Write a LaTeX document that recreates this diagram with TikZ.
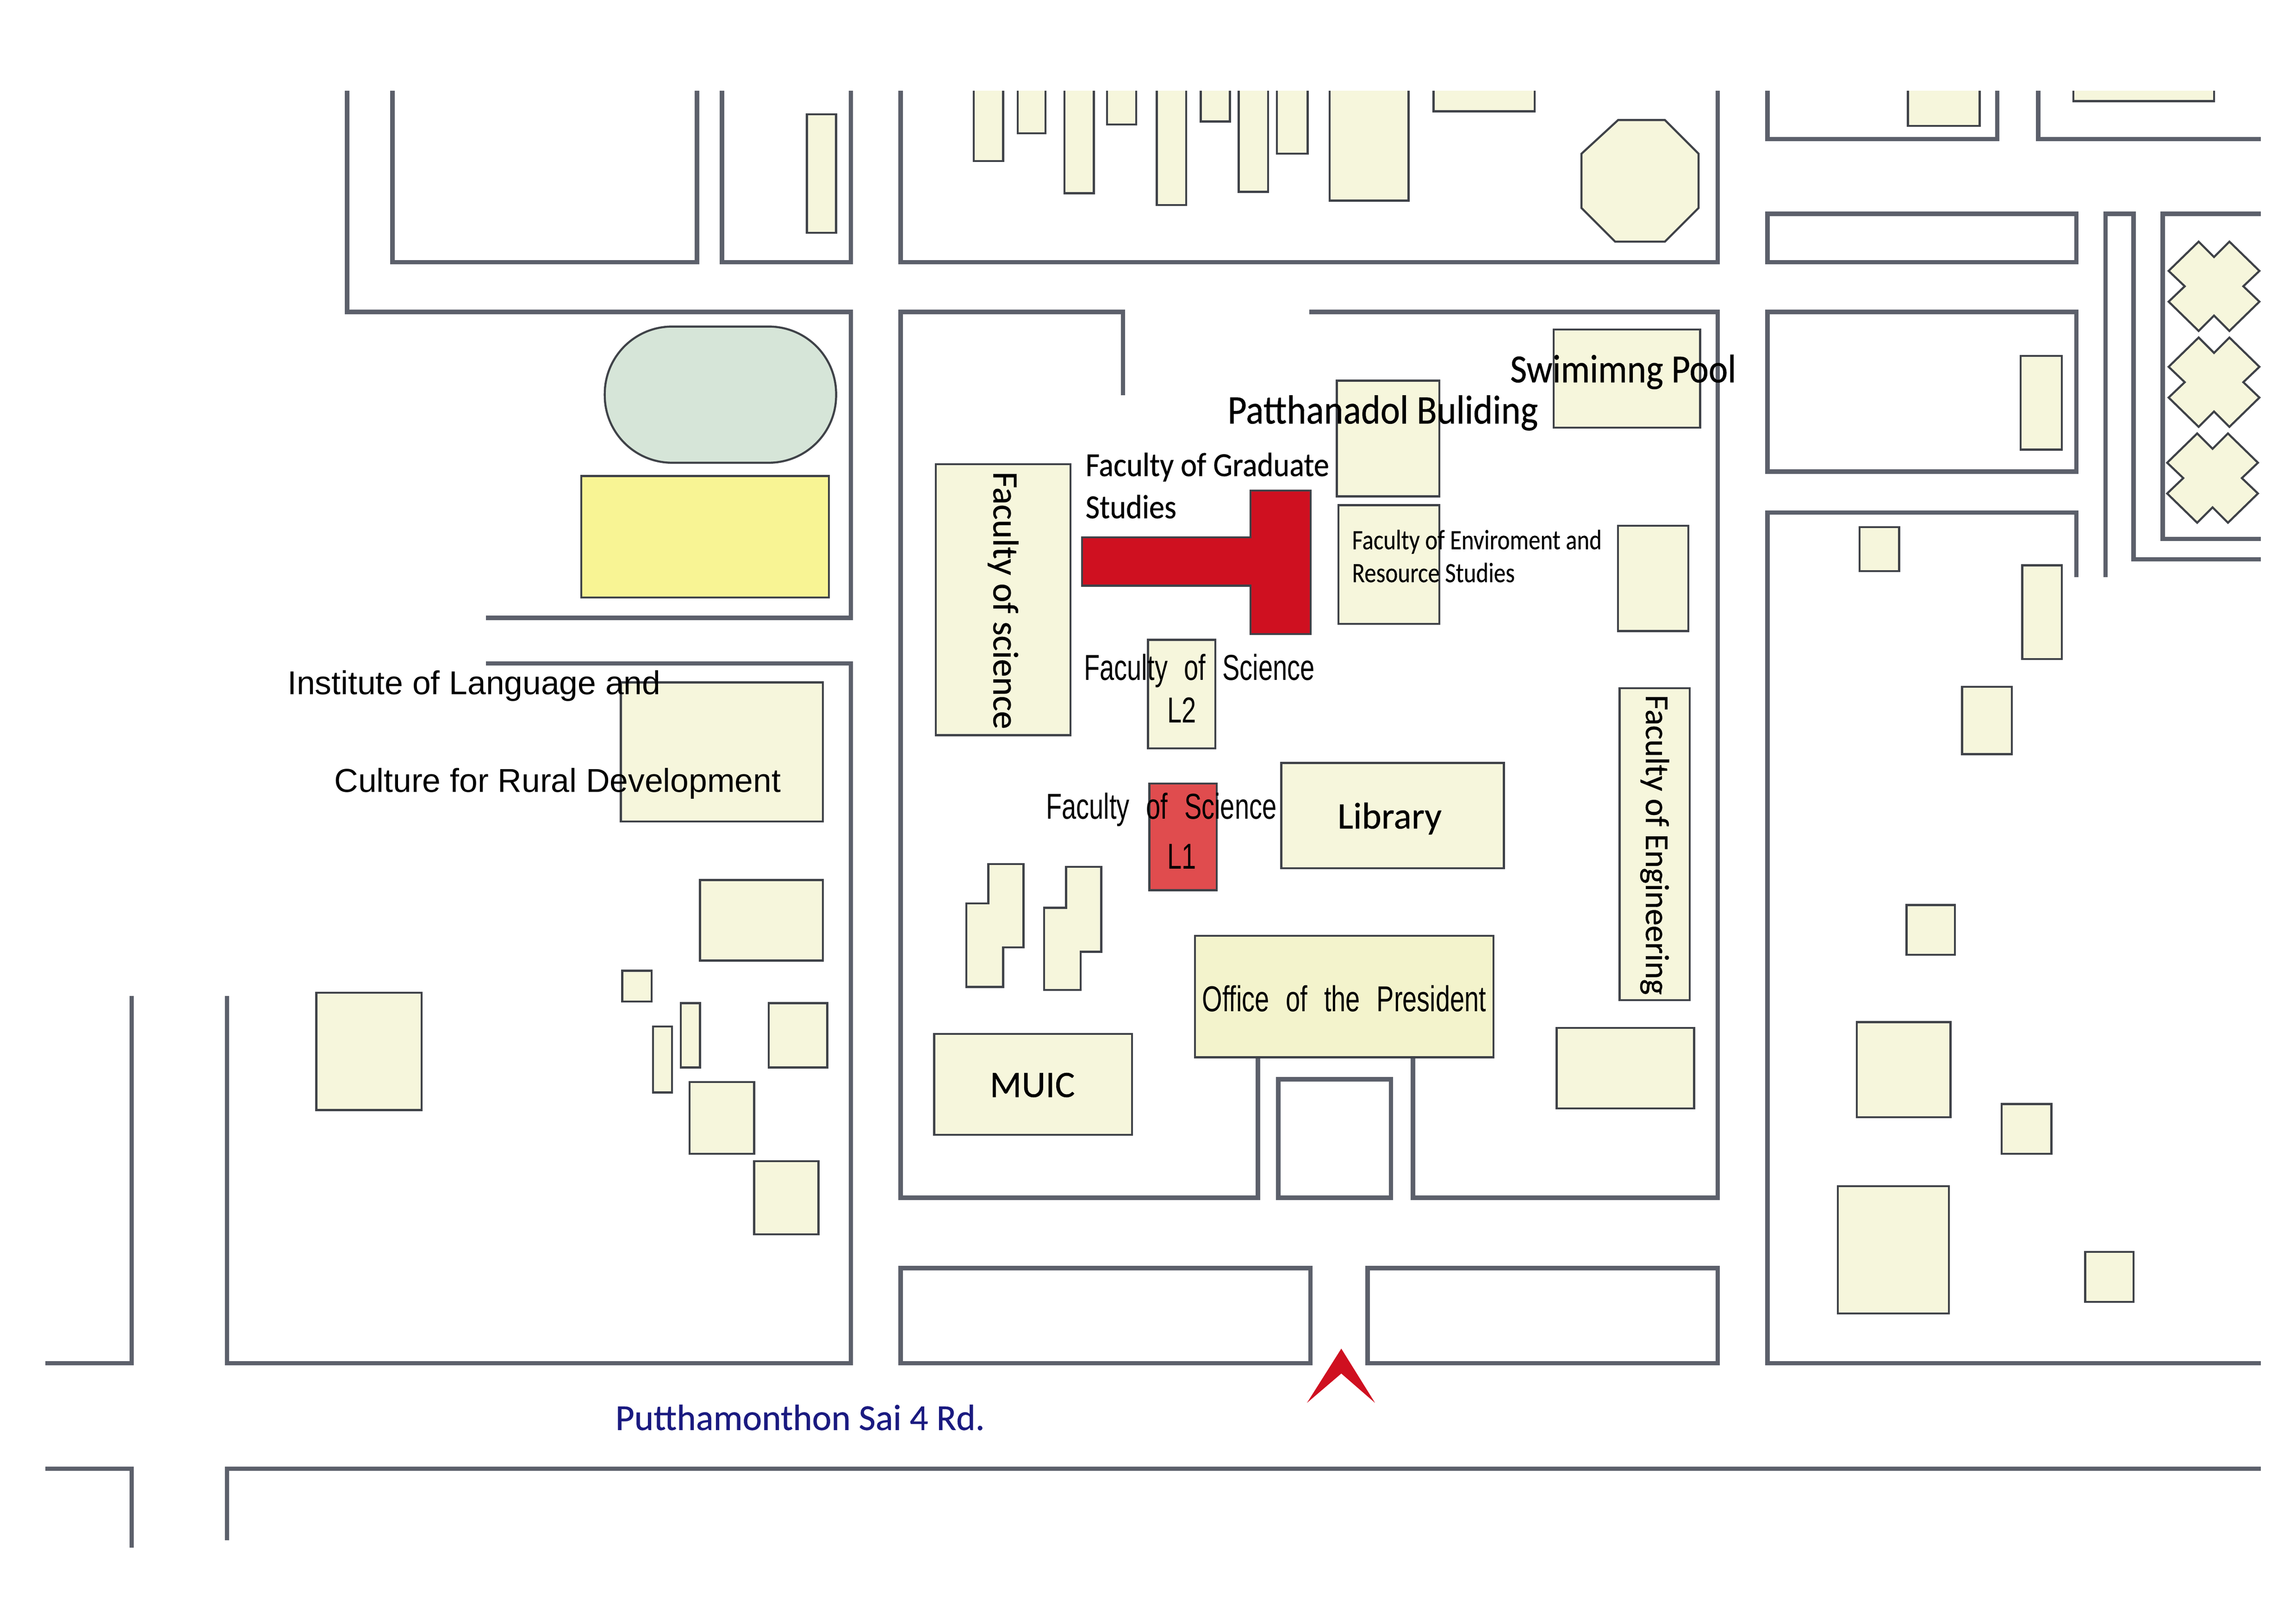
\documentclass[tikz,border=0pt]{standalone}
\usepackage{fontspec}
\usepackage{xcolor}
\usetikzlibrary{positioning}
\setmainfont{Liberation Sans}
\newfontfamily\calfont[FakeBold=0.5]{Carlito}
\newfontfamily\headfont[FakeBold=0.5,FakeStretch=0.91]{Carlito}
\newfontfamily\smallfont[FakeBold=0.2,FakeStretch=0.84]{Carlito}
\newfontfamily\slimfont[FakeStretch=0.72,WordSpace=2.3]{Liberation Sans}
\definecolor{roadgray}{HTML}{5C606B}
\definecolor{edgegray}{HTML}{3F4248}
\definecolor{buildfill}{HTML}{F6F6DC}
\definecolor{navyblue}{HTML}{1A1A80}
\definecolor{tblockred}{HTML}{CF1020}

\begin{document}
\begin{tikzpicture}[
    x=0.02cm,
    y=-0.02cm,
    road/.style={draw=roadgray, line width=1.7pt, line join=miter},
    building/.style={draw=edgegray, fill=buildfill, line width=0.8pt},
    plainlabel/.style={inner sep=0pt, font=\fontsize{12.85}{15}\selectfont},
    callabel/.style={inner sep=0pt, font=\calfont\fontsize{14.5}{17}\selectfont},
    headlabel/.style={inner sep=0pt, anchor=west, font=\headfont\fontsize{15.5}{17}\selectfont},
    slimlabel/.style={inner sep=0pt, font=\slimfont\fontsize{14}{17}\selectfont}
]
\useasboundingbox (0,0) rectangle (1568,1108.8);

% Roads - top row
\draw [road] (237,62) -- (237,213) -- (581,213) -- (581,422) -- (332,422);
\draw [road] (268,62) -- (268,179) -- (476,179) -- (476,62);
\draw [road] (493,62) -- (493,179) -- (581,179) -- (581,62);
\draw [road] (615,62) -- (615,179) -- (1173,179) -- (1173,62);
\draw [road] (1207,62) -- (1207,95) -- (1364,95) -- (1364,62);
\draw [road] (1392,62) -- (1392,95) -- (1544,95);

% Roads - right side
\draw [road] (1207,146) rectangle (1418,179);
\draw [road] (1207,213) rectangle (1418,322);
\draw [road] (1544,931) -- (1207,931) -- (1207,350) -- (1418,350) -- (1418,394);
\draw [road] (1438,394) -- (1438,146) -- (1457,146) -- (1457,382) -- (1544,382);
\draw [road] (1544,146) -- (1477,146) -- (1477,368) -- (1544,368);

% Roads - central block
\draw [road] (767,270) -- (767,213) -- (615,213) -- (615,818) -- (859,818) -- (859,722);
\draw [road] (894,213) -- (1173,213) -- (1173,818) -- (965,818) -- (965,722);
\draw [road] (873,737) rectangle (950,818);

% Roads - left and bottom
\draw [road] (332,453) -- (581,453) -- (581,931) -- (155,931) -- (155,680);
\draw [road] (90,680) -- (90,931) -- (31,931);
\draw [road] (31,1003) -- (90,1003) -- (90,1057);
\draw [road] (155,1052) -- (155,1003) -- (1544,1003);
\draw [road] (615,866) rectangle (895,931);
\draw [road] (934,866) rectangle (1173,931);

% Buildings cut off by the top edge
\foreach \xa/\xb/\yb in {665/685/110, 695/714/91, 727/747/132, 756/776/85, 790/810/140, 820/840/83, 846/866/131, 872/893/105, 908/962/137, 979/1048/76, 1303/1352/86, 1416/1512/69}
    \draw [building] (\xa,62) -- (\xa,\yb) -- (\xb,\yb) -- (\xb,62);

% Plain buildings
\foreach \xa/\ya/\xb/\yb in {551/78/571/159, 639/317/731/502, 913/260/983/339, 1061/225/1161/292, 914/345/983/426, 1105/359/1153/431, 784/437/830/511, 875/521/1027/593, 1106/470/1154/683, 638/706/773/775, 1063/702/1157/757, 424/466/562/561, 478/601/562/656, 216/678/288/758, 425/663/445/684, 465/685/478/729, 446/701/459/746, 525/685/565/729, 471/739/515/788, 515/793/559/843, 1380/243/1408/307, 1270/360/1297/390, 1381/386/1408/450, 1340/469/1374/515, 1302/618/1335/652, 1268/698/1332/763, 1367/754/1401/788, 1255/810/1331/897, 1424/855/1457/889}
    \draw [building] (\xa,\ya) rectangle (\xb,\yb);

% Coloured buildings
\draw [building, fill=tblockred] (739,367) -- (854,367) -- (854,335) -- (895,335) -- (895,433) -- (854,433) -- (854,400) -- (739,400) -- cycle;
\draw [building, fill={rgb,255:red,224;green,76;blue,78}] (785,535) rectangle (831,608);
\draw [building, fill={rgb,255:red,243;green,243;blue,204}] (816,639) rectangle (1020,722);
\draw [building, fill={rgb,255:red,248;green,244;blue,148}] (397,325) rectangle (566,408);
\draw [building, fill={rgb,255:red,214;green,229;blue,216}, rounded corners=0.92cm] (413,223) rectangle (571,316);

% Odd shapes
\draw [building] (1105,82) -- (1137,82) -- (1160,105) -- (1160,142) -- (1137,165) -- (1103,165) -- (1080,142) -- (1080,105) -- cycle;
\draw [building] (660,617) -- (675,617) -- (675,590) -- (699,590) -- (699,647) -- (685,647) -- (685,674) -- (660,674) -- cycle;
\draw [building] (713,620) -- (728,620) -- (728,592) -- (752,592) -- (752,650) -- (738,650) -- (738,676) -- (713,676) -- cycle;
\foreach \cx/\cy in {1512/195.5, 1512/261, 1511/326.5}
    \draw [building, shift={(\cx,\cy)}] (-31,-10.5) -- (-10.5,-30.5) -- (0,-20) -- (10.5,-30.5) -- (31,-10.5) -- (20,0) -- (31,10.5) -- (10.5,30.5) -- (0,20) -- (-10.5,30.5) -- (-31,10.5) -- (-20,0) -- cycle;

% Entrance mark
\fill [tblockred] (916,921) -- (939,958) -- (916,938) -- (892.6,958) -- cycle;

% Labels
\node [plainlabel, anchor=west] (institute1) at (196,468.5) {Institute of Language and};
\node [plainlabel, anchor=west] (institute2) at (228,535) {Culture for Rural Development};
\node [headlabel] (pool) at (1031,254) {Swimimng Pool};
\node [headlabel, font=\headfont\fontsize{15.8}{17}\selectfont] (patthanadol) at (838,282) {Patthanadol Buliding};
\node [headlabel, font=\headfont\fontsize{13.1}{17}\selectfont] (graduate1) at (741,319) {Faculty of Graduate};
\node [headlabel, font=\headfont\fontsize{13.1}{17}\selectfont] (graduate2) at (741,346) {Studies};
\node [headlabel, font=\smallfont\fontsize{10.9}{14}\selectfont] (environ1) at (923,370) {Faculty of Enviroment and};
\node [headlabel, font=\smallfont\fontsize{10.9}{14}\selectfont] (environ2) at (923,391) {Resource Studies};
\node [callabel, rotate=-90, font=\calfont\fontsize{14}{17}\selectfont] (science) at (685,410) {Faculty of science};
\node [callabel, rotate=-90, font=\calfont\fontsize{13}{17}\selectfont] (engineering) at (1130,577) {Faculty of Engineering};
\node [slimlabel, anchor=west] (sciencetwo) at (740,458) {Faculty of Science};
\node [slimlabel] (ltwo) at (807,485) {L2};
\node [slimlabel, anchor=west] (scienceone) at (714,553) {Faculty of Science};
\node [slimlabel] (lone) at (807,585) {L1};
\node [callabel] (library) at (949,559) {Library};
\node [slimlabel] (office) at (918,682) {Office of the President};
\node [callabel] (muic) at (705,741) {MUIC};
\node [callabel, anchor=west, text=navyblue, font=\calfont\fontsize{14.2}{17}\selectfont] (putthamonthon) at (420,968) {Putthamonthon Sai 4 Rd.};

\end{tikzpicture}
\end{document}
